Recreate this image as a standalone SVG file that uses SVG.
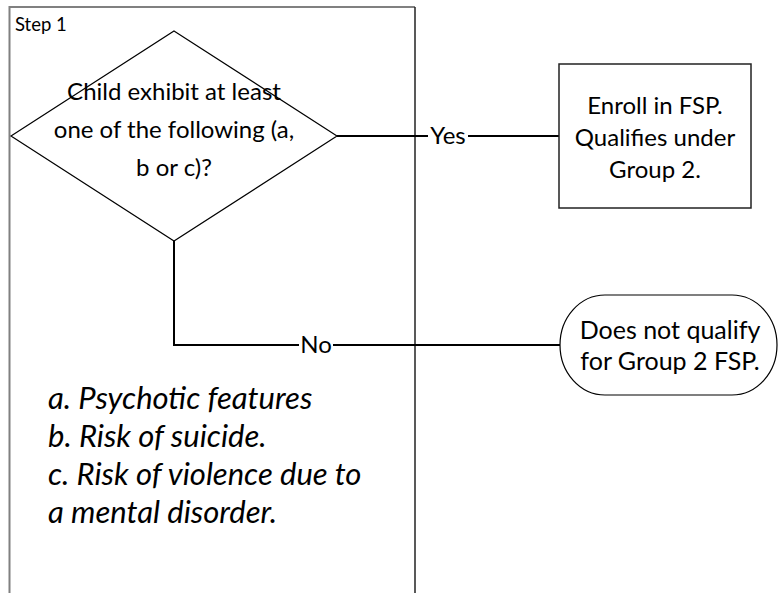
<svg xmlns="http://www.w3.org/2000/svg" width="779" height="593" viewBox="0 0 779 593">
<style>
  text { font-family: Lato, "Open Sans", "Liberation Sans", sans-serif; fill: #000; }
  .t { font-size: 24px; text-anchor: middle; }
  .o { font-size: 25px; text-anchor: middle; }
  .lbl { font-size: 24px; text-anchor: middle; }
  .it { font-size: 31px; font-style: italic; }
  .conn { fill: none; stroke: #000; stroke-width: 2; }
  .shape { fill: #fff; stroke: #000; stroke-width: 1.2; }
</style>
<rect x="0" y="0" width="779" height="593" fill="#fff"/>
<g id="lane">
  <polyline points="9.5,593 9.5,7 415,7" fill="none" stroke="#808080" stroke-width="2"/>
  <line x1="415" y1="7" x2="415" y2="593" stroke="#222" stroke-width="1.5"/>
  <text x="15" y="31" style="font-size:18.5px">Step 1</text>
</g>
<g id="connectors">
  <line class="conn" x1="337" y1="136" x2="559" y2="136"/>
  <polyline class="conn" points="174,241 174,345 560,345"/>
  <rect x="428" y="124" width="40" height="24" fill="#fff"/>
  <text class="lbl" x="448" y="144">Yes</text>
  <rect x="299" y="333" width="34" height="24" fill="#fff"/>
  <text class="lbl" x="316" y="353">No</text>
</g>
<g id="decision">
  <polygon class="shape" points="174,31 337,136 174,241 11,136"/>
  <text class="t" x="174" y="100">Child exhibit at least</text>
  <text class="t" x="174" y="138">one of the following (a,</text>
  <text class="t" x="174" y="176">b or c)?</text>
</g>
<g id="enroll">
  <rect x="559" y="64" width="192" height="144" fill="#fff" stroke="#222" stroke-width="1.5"/>
  <text class="t" x="655" y="114">Enroll in FSP.</text>
  <text class="t" x="655" y="146">Qualifies under</text>
  <text class="t" x="655" y="178">Group 2.</text>
</g>
<g id="notqualify">
  <rect class="shape" x="560" y="295" width="217" height="100" rx="45" ry="50"/>
  <text class="o" x="670" y="339">Does not qualify</text>
  <text class="o" x="670" y="370">for Group 2 FSP.</text>
</g>
<g id="criteria">
  <text class="it" x="48" y="409">a. Psychotic features</text>
  <text class="it" x="48" y="447">b. Risk of suicide.</text>
  <text class="it" x="48" y="485">c. Risk of violence due to</text>
  <text class="it" x="48" y="523">a mental disorder.</text>
</g>
</svg>
